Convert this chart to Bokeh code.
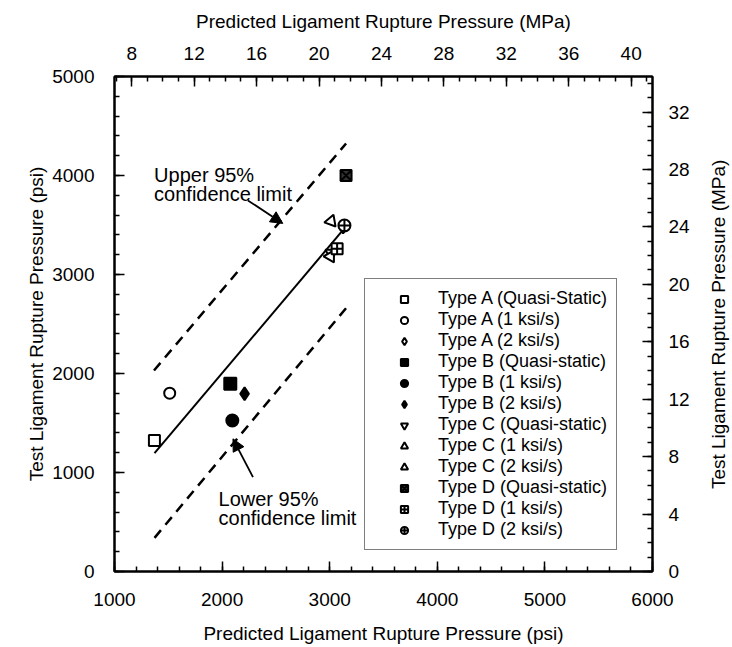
import math
from bokeh.plotting import figure
from bokeh.layouts import row
from bokeh.core.properties import value
from bokeh.models import (Range1d, LinearAxis, SingleIntervalTicker, Legend, LegendItem,
                          Arrow, NormalHead, Label)
from bokeh.embed import file_html
from bokeh.resources import INLINE

# ---------------- data (psi) ----------------
series_names = ["Type A (Quasi-Static)", "Type A (1 ksi/s)", "Type A (2 ksi/s)",
                "Type B (Quasi-static)", "Type B (1 ksi/s)", "Type B (2 ksi/s)",
                "Type C (Quasi-static)", "Type C (1 ksi/s)", "Type C (2 ksi/s)",
                "Type D (Quasi-static)", "Type D (1 ksi/s)", "Type D (2 ksi/s)"]
predicted_psi = [1371, 1513, 3125, 2076, 2095, 2209, 3015, 3013, 3007, 3152, 3069, 3137]
test_psi = [1323, 1801, 3480, 1896, 1525, 1795, 3215, 3538, 3182, 4000, 3259, 3495]

fit_x = [1372, 3140]
fit_y = [1195, 3470]
upper_x = [1367, 3152]
upper_y = [2030, 4323]
lower_x = [1372, 3152]
lower_y = [340, 2660]

PSI_PER_MPA = 145.038

FONT = "Liberation Sans"

p = figure(width=700, height=647, output_backend="svg", toolbar_location=None,
           x_range=Range1d(1000, 6000), y_range=Range1d(0, 5000),
           min_border_left=114, min_border_right=48, min_border_top=76, min_border_bottom=76,
           x_axis_location=None, y_axis_location=None)
p.grid.visible = False
p.outline_line_color = "black"
p.outline_line_width = 2
p.background_fill_color = "white"
p.border_fill_color = "white"

p.extra_x_ranges = {"mpa_x": Range1d(1000 / PSI_PER_MPA, 6000 / PSI_PER_MPA)}
p.extra_y_ranges = {"mpa_y": Range1d(0, 5000 / PSI_PER_MPA)}


def style_axis(ax, title, label_standoff, title_standoff):
    ax.axis_label = title
    ax.axis_label_text_font = FONT
    ax.axis_label_text_font_size = "19px"
    ax.axis_label_text_font_style = "normal"
    ax.axis_label_text_color = "black"
    ax.axis_label_standoff = title_standoff
    ax.major_label_text_font = FONT
    ax.major_label_text_font_size = "19px"
    ax.major_label_text_color = "black"
    ax.major_label_standoff = label_standoff
    ax.axis_line_width = 2
    ax.axis_line_color = "black"
    ax.major_tick_in = 10
    ax.major_tick_out = 0
    ax.minor_tick_in = 5
    ax.minor_tick_out = 0
    ax.major_tick_line_width = 1.5
    ax.minor_tick_line_width = 1.5
    ax.major_tick_line_color = "black"
    ax.minor_tick_line_color = "black"


bottom = LinearAxis(ticker=SingleIntervalTicker(interval=1000, num_minor_ticks=5))
style_axis(bottom, "Predicted Ligament Rupture Pressure (psi)", 21, 14)
p.add_layout(bottom, "below")

left = LinearAxis(ticker=SingleIntervalTicker(interval=1000, num_minor_ticks=5))
style_axis(left, "Test Ligament Rupture Pressure (psi)", 20, 2)
left.major_label_orientation = "horizontal"
p.add_layout(left, "left")

top = LinearAxis(x_range_name="mpa_x", ticker=SingleIntervalTicker(interval=4, num_minor_ticks=4))
style_axis(top, "Predicted Ligament Rupture Pressure (MPa)", 17, 12)
p.add_layout(top, "above")

right = LinearAxis(y_range_name="mpa_y", ticker=SingleIntervalTicker(interval=4, num_minor_ticks=4))
style_axis(right, None, 16, 16)
p.add_layout(right, "right")

# ---------------- lines ----------------
p.line(fit_x, fit_y, line_color="black", line_width=2)
p.line(upper_x, upper_y, line_color="black", line_width=2.5, line_dash="10 7")
p.line(lower_x, lower_y, line_color="black", line_width=2.5, line_dash="10 7")

# ---------------- markers ----------------
marker_styles = [
    dict(marker="square", fill_color="white"),
    dict(marker="circle", fill_color="white"),
    dict(marker="diamond", fill_color="white"),
    dict(marker="square", fill_color="black"),
    dict(marker="circle", fill_color="black"),
    dict(marker="diamond", fill_color="black"),
    dict(marker="inverted_triangle", fill_color="white"),
    dict(marker="triangle", fill_color="white", angle=-0.35),
    dict(marker="triangle", fill_color="white", angle=1.5708),
    dict(marker="square_x", fill_color="#333333"),
    dict(marker="square_cross", fill_color="white"),
    dict(marker="circle_cross", fill_color="white"),
]
sizes = [11, 11, 13, 12, 12, 13, 12, 12, 12, 11, 11, 12]

items = []
for name, xv, yv, st, sz in zip(series_names, predicted_psi, test_psi, marker_styles, sizes):
    r = p.scatter([xv], [yv], size=sz, line_color="black", line_width=2, **st)
    items.append(LegendItem(label=name, renderers=[r]))

legend = Legend(items=items, location=(250, 21), orientation="vertical",
                glyph_width=60, glyph_height=18, label_height=18, spacing=0,
                padding=9, label_standoff=4, margin=0,
                label_text_font=FONT, label_text_font_size="18px",
                label_text_line_height=1.0,
                label_text_color="black",
                border_line_color="black", border_line_width=1.5,
                background_fill_color="white", background_fill_alpha=1.0)
p.add_layout(legend, "center")

# ---------------- annotations ----------------
p.add_layout(Arrow(end=NormalHead(size=12, fill_color="black", line_color="black"),
                   x_start=2240, y_start=3748, x_end=2564, y_end=3516,
                   line_color="black", line_width=1.8))
p.add_layout(Arrow(end=NormalHead(size=12, fill_color="black", line_color="black"),
                   x_start=2287, y_start=953, x_end=2101, y_end=1340,
                   line_color="black", line_width=1.8))

for txt, xx, yy in [("Upper 95%", 1368, 4010), ("confidence limit", 1368, 3815),
                    ("Lower 95%", 1967, 734), ("confidence limit", 1967, 539)]:
    p.add_layout(Label(x=xx, y=yy, text=txt, text_font=FONT, text_font_size="20px",
                       text_color="black", text_baseline="alphabetic", text_align="left"))

# ---------------- right-hand title strip (reads bottom-to-top) ----------------
p2 = figure(width=32, height=647, output_backend="svg", toolbar_location=None,
            x_range=Range1d(0, 32), y_range=Range1d(0, 647),
            min_border_left=0, min_border_right=0, min_border_top=0, min_border_bottom=0,
            x_axis_location=None, y_axis_location=None)
p2.grid.visible = False
p2.outline_line_color = None
p2.background_fill_color = "white"
p2.border_fill_color = "white"
p2.text(x=[18], y=[323], text=["Test Ligament Rupture Pressure (MPa)"], angle=math.pi / 2,
        text_align="center", text_baseline="middle", text_font=value(FONT),
        text_font_size="19px", text_color="black")

layout = row(p, p2)
open("out.html", "w").write(file_html(layout, INLINE))
